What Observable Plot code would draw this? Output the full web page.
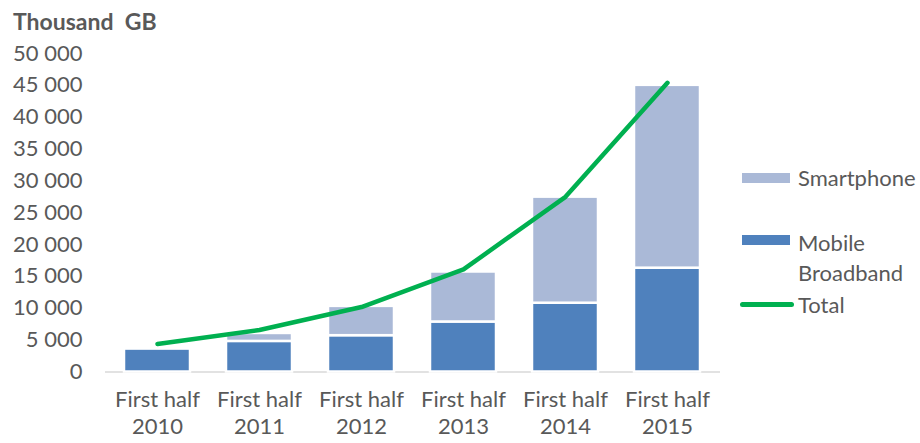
<!DOCTYPE html>
<html><head><meta charset="utf-8">
<script src="https://cdn.jsdelivr.net/npm/d3@7"></script>
<script src="https://cdn.jsdelivr.net/npm/@observablehq/plot@0.6"></script>
<style>
body{margin:0;background:#fff;}
#wrap{position:relative;width:920px;height:443px;font-family:Lato,sans-serif;color:#595959;overflow:hidden;}
#title{position:absolute;left:13px;top:10px;font-weight:bold;font-size:23px;line-height:1;white-space:pre;}
.lt{position:absolute;left:798px;font-size:22px;line-height:30px;white-space:nowrap;}
.sw{position:absolute;left:742px;width:48px;height:10px;}
.ln{position:absolute;left:740px;width:54px;height:4.5px;border-radius:3px;background:#00B050;}
</style></head>
<body><div id="wrap"><div id="chart"></div><div id="title">Thousand  GB</div><div id="legend"></div></div>
<script>
const years = ["2010", "2011", "2012", "2013", "2014", "2015"];
const periodPrefix = "First half";
const mobileBroadband = [3600, 4800, 5700, 7850, 10800, 16300];
const smartphone = [0, 1250, 4600, 7850, 16650, 28700];
const total = [4400, 6600, 10200, 16100, 27500, 45400];
const seriesNames = ["Mobile Broadband", "Smartphone"];
const seriesColors = ["#4F81BD", "#AAB9D7"];
const lineName = "Total";
const lineColor = "#00B050";
const yTicks = d3.range(0, 50001, 5000);

const rows = [];
years.forEach((y, i) => rows.push({period: y, series: seriesNames[0], value: mobileBroadband[i]}));
years.forEach((y, i) => rows.push({period: y, series: seriesNames[1], value: smartphone[i]}));
const totals = years.map((y, i) => ({period: y, total: total[i]}));

const fmt = d => d3.format(",")(d).replace(/,/g, " ");

const chart = Plot.plot({
  width: 920,
  height: 443,
  marginTop: 53,
  marginBottom: 71.5,
  marginLeft: 105,
  marginRight: 200,
  style: {fontFamily: "Lato, sans-serif", fontSize: "22px", color: "#595959", background: "white"},
  x: {domain: years, paddingInner: 0.35, paddingOuter: 0.175, label: null},
  y: {domain: [0, 50000], label: null},
  color: {domain: seriesNames, range: seriesColors},
  marks: [
    Plot.ruleY([0], {stroke: "#D9D9D9", strokeWidth: 1.5}),
    Plot.barY(rows, {x: "period", y: "value", fill: "series", stroke: "white", strokeWidth: 2.5}),
    Plot.lineY(totals, {x: "period", y: "total", stroke: lineColor, strokeWidth: 4.5, strokeLinecap: "round", strokeLinejoin: "round"}),
    Plot.axisY(yTicks, {tickSize: 0, tickPadding: 23, tickFormat: fmt, fontSize: 22, label: null}),
    Plot.axisX({tickSize: 0, tickPadding: 16, fontSize: 22, lineHeight: 1.23, tickFormat: d => periodPrefix + "\n" + d, label: null})
  ]
});
document.getElementById("chart").appendChild(chart);

const leg = document.getElementById("legend");
leg.innerHTML = `
  <div class="sw" style="top:173px;background:${seriesColors[1]}"></div>
  <div class="lt" style="top:163px">${seriesNames[1]}</div>
  <div class="sw" style="top:235px;background:${seriesColors[0]}"></div>
  <div class="lt" style="top:228px">Mobile<br>Broadband</div>
  <div class="ln" style="top:302px"></div>
  <div class="lt" style="top:290px">${lineName}</div>`;
</script>
</body></html>
